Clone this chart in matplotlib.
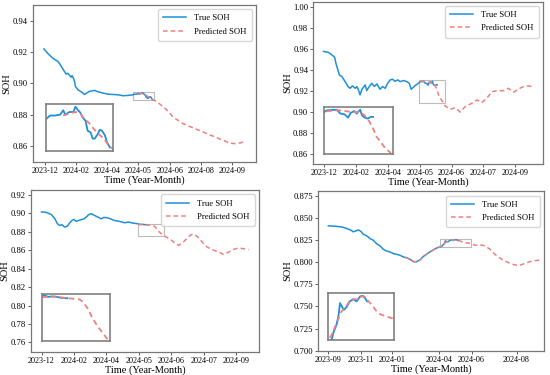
import numpy as np
import matplotlib
matplotlib.use('Agg')
import matplotlib.pyplot as plt
from matplotlib.patches import Rectangle

plt.rcParams.update({
    'font.family': 'serif', 'font.serif': ['Liberation Serif', 'DejaVu Serif'],
    'font.size': 6, 'axes.labelsize': 7.5,
    'xtick.labelsize': 5.9, 'ytick.labelsize': 6.2, 'legend.fontsize': 6.2,
})

TRUE_C = '#1f8fd8'
PRED_C = '#f27f7f'

# ---- panel (a) ----
a_ticks = [0, 1, 2, 3, 4, 5, 6]
a_labels = ['2023-12', '2024-02', '2024-04', '2024-05', '2024-06', '2024-08', '2024-09']
a_true_x = [-0.02, 0.11, 0.27, 0.43, 0.50, 0.59, 0.69, 0.74, 0.85, 0.88, 0.93, 0.96, 0.99,
            1.07, 1.17, 1.28, 1.35, 1.44, 1.60, 1.71, 1.87, 2.03, 2.19, 2.35, 2.51, 2.67, 2.83,
            2.87, 2.92, 2.97, 3.00, 3.02, 3.06, 3.10, 3.12, 3.14, 3.17, 3.19, 3.22, 3.24, 3.27,
            3.29, 3.31, 3.34, 3.36, 3.38, 3.41, 3.43, 3.46]
a_true_y = [0.922, 0.919, 0.916, 0.914, 0.912, 0.909, 0.906, 0.9065, 0.904, 0.905, 0.903, 0.901, 0.898,
            0.896, 0.8947, 0.893, 0.894, 0.895, 0.8956, 0.8947, 0.8939, 0.8932, 0.893, 0.8928, 0.8922, 0.8924, 0.8928,
            0.8932, 0.8932, 0.8933, 0.8938, 0.8933, 0.8936, 0.8936, 0.8942, 0.8939, 0.8935, 0.8930, 0.8926, 0.8915, 0.8913,
            0.8906, 0.8906, 0.8911, 0.8916, 0.8915, 0.8910, 0.8902, 0.8896]
a_pred_x = [3.00, 3.08, 3.13, 3.17, 3.21, 3.26, 3.30, 3.35, 3.40, 3.45, 3.58, 3.90, 4.11, 4.43,
            4.75, 5.07, 5.39, 5.71, 5.92, 6.08, 6.24, 6.40]
a_pred_y = [0.8932, 0.8935, 0.8936, 0.8934, 0.8928, 0.8923, 0.8917, 0.8911, 0.8906, 0.8898, 0.8886, 0.8833, 0.8786, 0.8744,
            0.8717, 0.8691, 0.8664, 0.8638, 0.8621, 0.8617, 0.8621, 0.8630]
a_zoom = (2.83, 3.49, 0.8892, 0.8945)

# ---- panel (b) ----
b_ticks = [0, 1, 2, 3, 4, 5, 6]
b_labels = ['2023-12', '2024-02', '2024-04', '2024-05', '2024-06', '2024-07', '2024-09']
b_true_x = [-0.03, 0.13, 0.23, 0.32, 0.36, 0.42, 0.47, 0.55, 0.65, 0.74, 0.81, 0.88, 0.97, 1.02, 1.07,
            1.12, 1.18, 1.23, 1.28, 1.33, 1.41, 1.49, 1.57, 1.65, 1.75, 1.83, 1.91, 1.99, 2.07, 2.14,
            2.22, 2.31, 2.38, 2.49, 2.59, 2.67, 2.73, 2.80, 2.88, 2.96, 3.01, 3.07, 3.13, 3.17, 3.22,
            3.26, 3.29, 3.33, 3.36, 3.40, 3.42, 3.45, 3.49, 3.52, 3.55]
b_true_y = [0.9575, 0.9565, 0.9543, 0.952, 0.9463, 0.940, 0.935, 0.9335, 0.9287, 0.924, 0.9223, 0.9246, 0.9223, 0.924, 0.9207,
            0.916, 0.9214, 0.9233, 0.9255, 0.9201, 0.924, 0.9271, 0.924, 0.9265, 0.9214, 0.924, 0.9223, 0.9271, 0.9303, 0.931,
            0.929, 0.9303, 0.9287, 0.9297, 0.9287, 0.9271, 0.9214, 0.9233, 0.9255, 0.9271, 0.9287, 0.9289, 0.9290, 0.9272, 0.9268,
            0.9253, 0.9275, 0.9284, 0.9272, 0.9290, 0.9264, 0.9253, 0.9248, 0.9256, 0.9256]
b_pred_x = [3.01, 3.11, 3.18, 3.30, 3.40, 3.45, 3.51, 3.55, 3.59, 3.65, 3.70, 3.74, 3.80, 3.96, 4.11,
            4.27, 4.43, 4.64, 4.80, 4.95, 5.11, 5.27, 5.43, 5.64, 5.79, 5.95, 6.11, 6.26, 6.42, 6.58]
b_pred_y = [0.9283, 0.9287, 0.9287, 0.9279, 0.9279, 0.9264, 0.9232, 0.9201, 0.9162, 0.9130, 0.9102, 0.9091, 0.9054, 0.9022, 0.9038,
            0.8996, 0.9048, 0.908, 0.9112, 0.9086, 0.9128, 0.9191, 0.920, 0.920, 0.9223, 0.9185, 0.9217, 0.9239, 0.9246, 0.9236]
b_zoom = (2.98, 3.78, 0.908, 0.9303)

# ---- panel (c) ----
c_ticks = [0, 1, 2, 3, 4, 5, 6]
c_labels = ['2023-12', '2024-02', '2024-04', '2024-05', '2024-06', '2024-07', '2024-09']
c_true_x = [0.0, 0.10, 0.20, 0.31, 0.41, 0.49, 0.56, 0.63, 0.71, 0.80, 0.87, 0.94, 1.0, 1.07, 1.14,
            1.22, 1.31, 1.38, 1.45, 1.53, 1.63, 1.73, 1.84, 1.92, 2.02, 2.12, 2.24, 2.40, 2.55, 2.67,
            2.81, 2.96, 3.05, 3.09, 3.15, 3.21, 3.28]
c_true_y = [0.9013, 0.9013, 0.9002, 0.8984, 0.8941, 0.8886, 0.8868, 0.8875, 0.885, 0.8861, 0.8897, 0.8922, 0.8933, 0.8912, 0.8922,
            0.893, 0.894, 0.8959, 0.8984, 0.8995, 0.8977, 0.8959, 0.894, 0.8955, 0.8951, 0.894, 0.8922, 0.8912, 0.8897, 0.8904,
            0.8894, 0.8886, 0.8878, 0.8879, 0.8878, 0.8875, 0.8874]
c_pred_x = [2.98, 3.13, 3.28, 3.42, 3.46, 3.52, 3.57, 3.63, 3.69, 3.74, 3.83, 3.98, 4.13, 4.23, 4.37,
            4.49, 4.61, 4.69, 4.82, 4.95, 5.10, 5.31, 5.46, 5.61, 5.77, 5.92, 6.07, 6.22, 6.38]
c_pred_y = [0.8877, 0.8879, 0.8874, 0.8871, 0.8864, 0.8844, 0.8819, 0.8796, 0.8777, 0.8761, 0.8745, 0.8715, 0.867, 0.8652, 0.8688,
            0.8731, 0.8768, 0.8775, 0.8742, 0.8688, 0.8634, 0.8598, 0.858, 0.8553, 0.858, 0.8609, 0.8623, 0.8616, 0.8605]
c_zoom = (2.98, 3.78, 0.8753, 0.8886)

# ---- panel (d) ----
d_ticks = [0, 1.01, 1.98, 3.42, 4.43, 5.82]
d_labels = ['2023-09', '2023-11', '2024-01', '2024-04', '2024-06', '2024-08']
d_true_x = [0.0, 0.21, 0.41, 0.57, 0.70, 0.77, 0.85, 0.93, 1.01, 1.08, 1.19, 1.29, 1.39, 1.49, 1.60,
            1.70, 1.80, 1.91, 2.01, 2.11, 2.22, 2.32, 2.42, 2.53, 2.63, 2.73, 2.84, 2.94, 3.04, 3.14,
            3.25, 3.35, 3.45, 3.50, 3.53, 3.57, 3.60, 3.62, 3.66, 3.68, 3.72, 3.76, 3.81, 3.86, 3.91,
            3.95, 3.98, 4.01]
d_true_y = [0.841, 0.8406, 0.8398, 0.838, 0.8361, 0.8342, 0.8353, 0.8364, 0.8346, 0.8315, 0.8296, 0.8266, 0.8247, 0.8209, 0.8183,
            0.8145, 0.8126, 0.8115, 0.8096, 0.8088, 0.8077, 0.8058, 0.805, 0.8032, 0.8005, 0.8005, 0.8028, 0.8065, 0.809, 0.8115,
            0.814, 0.816, 0.8172, 0.8176, 0.819, 0.8202, 0.822, 0.8241, 0.8232, 0.8229, 0.8235, 0.8244, 0.8248, 0.8244, 0.8253,
            0.8254, 0.825, 0.8244]
d_pred_x = [2.37, 2.53, 2.63, 2.73, 2.84, 2.94, 3.04, 3.14, 3.25, 3.35, 3.45, 3.50, 3.55, 3.60, 3.64,
            3.69, 3.74, 3.79, 3.84, 3.88, 3.93, 3.98, 4.03, 4.08, 4.13, 4.17, 4.22, 4.29, 4.37, 4.54,
            4.74, 4.85, 5.0, 5.15, 5.36, 5.57, 5.77, 5.93, 6.08, 6.29, 6.52]
d_pred_y = [0.8055, 0.803, 0.8008, 0.8003, 0.8025, 0.8062, 0.8088, 0.8113, 0.8138, 0.8158, 0.8175, 0.8184, 0.8199, 0.8214, 0.8226,
            0.8232, 0.8241, 0.8247, 0.8248, 0.8247, 0.8253, 0.8252, 0.8244, 0.8238, 0.8229, 0.8223, 0.822, 0.8217, 0.8214, 0.819,
            0.8194, 0.8183, 0.8145, 0.8088, 0.8032, 0.7994, 0.7968, 0.7966, 0.7986, 0.8013, 0.8022]
d_zoom = (3.45, 4.40, 0.8175, 0.8259)


def draw_panel(fig, rect, irect, tx, ty, px, py, ticks, labels, xlim, ylim, yticks, yfmt, zoom):
    ax = fig.add_axes(rect)
    ax.plot(tx, ty, color=TRUE_C, lw=1.1, label='True SOH', zorder=3)
    ax.plot(px, py, color=PRED_C, lw=1.1, ls=(0, (3, 2)), label='Predicted SOH', zorder=4)
    ax.set_xticks(ticks)
    ax.set_xticklabels(labels)
    ax.set_yticks(yticks)
    ax.set_yticklabels([yfmt.format(v) for v in yticks])
    ax.set_xlim(*xlim)
    ax.set_ylim(*ylim)
    ax.set_xlabel('Time (Year-Month)', labelpad=0.5)
    ax.set_ylabel('SOH', labelpad=0.8)
    ax.tick_params(length=2.5, width=0.6, pad=1.2, color='#444444')
    for s in ax.spines.values():
        s.set_color('#777777')
        s.set_linewidth(0.9)
    ax.legend(loc='upper right', frameon=True, edgecolor='#cccccc', handlelength=2.6,
              borderpad=0.6, labelspacing=0.6, handletextpad=1.0)
    x0, x1, y0, y1 = zoom
    ax.add_patch(Rectangle((x0, y0), x1 - x0, y1 - y0, fill=False, ec='#bbbbbb', lw=0.8, zorder=2))

    ins = fig.add_axes(irect)
    ins.plot(tx, ty, color=TRUE_C, lw=1.3)
    ins.plot(px, py, color=PRED_C, lw=1.3, ls=(0, (3, 2)))
    ins.set_xlim(x0, x1)
    ins.set_ylim(y0, y1)
    ins.set_xticks([])
    ins.set_yticks([])
    for s in ins.spines.values():
        s.set_color('#808080')
        s.set_linewidth(1.2)
    return ax


fig = plt.figure(figsize=(5.5, 3.75), dpi=100)

draw_panel(fig, [0.06, 0.568, 0.4055, 0.4187], [0.0836, 0.5973, 0.1218, 0.1253],
           a_true_x, a_true_y, a_pred_x, a_pred_y, a_ticks, a_labels,
           (-0.37, 6.76), (0.85, 0.95), np.arange(0.86, 0.941, 0.02), '{:.2f}', a_zoom)
draw_panel(fig, [0.5697, 0.5627, 0.4182, 0.4327], [0.589, 0.5893, 0.1255, 0.1253],
           b_true_x, b_true_y, b_pred_x, b_pred_y, b_ticks, b_labels,
           (-0.35, 6.89), (0.85, 1.005), np.arange(0.86, 1.001, 0.02), '{:.2f}', b_zoom)
draw_panel(fig, [0.056, 0.0622, 0.4155, 0.4307], [0.0765, 0.0907, 0.1236, 0.1253],
           c_true_x, c_true_y, c_pred_x, c_pred_y, c_ticks, c_labels,
           (-0.33, 6.71), (0.75, 0.925), np.arange(0.76, 0.921, 0.02), '{:.2f}', c_zoom)
draw_panel(fig, [0.5788, 0.0649, 0.4109, 0.4249], [0.5967, 0.0933, 0.12, 0.1253],
           d_true_x, d_true_y, d_pred_x, d_pred_y, d_ticks, d_labels,
           (-0.31, 6.68), (0.70, 0.88), np.arange(0.70, 0.876, 0.025), '{:.3f}', d_zoom)

fig.savefig('out.png', dpi=100)
